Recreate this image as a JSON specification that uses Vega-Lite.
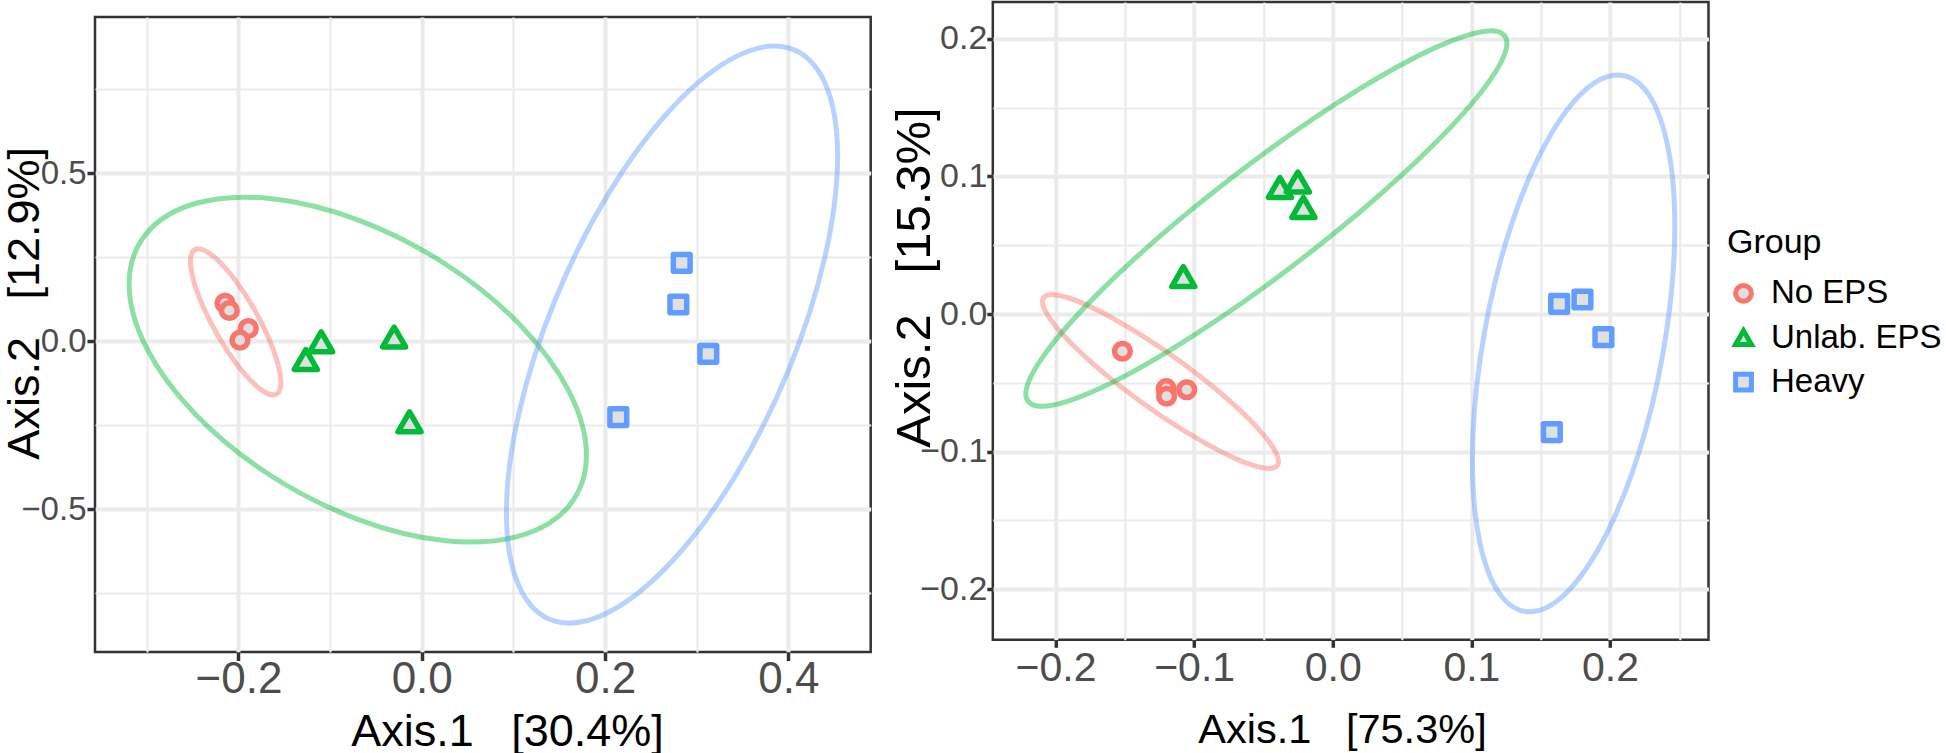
{
  "$schema": "https://vega.github.io/schema/vega-lite/v6.json",
  "background": "white",
  "padding": {"left": 0, "top": 0, "right": 0, "bottom": 0},
  "bounds": "full",
  "spacing": 16.8,
  "resolve": {"scale": {"x": "independent", "y": "independent", "stroke": "shared", "shape": "shared"}},
  "datasets": {
    "leftPoints": [
      {"Group": "No EPS", "x": -0.2146, "y": 0.113},
      {"Group": "No EPS", "x": -0.2099, "y": 0.0915},
      {"Group": "No EPS", "x": -0.1892, "y": 0.0378},
      {"Group": "No EPS", "x": -0.1983, "y": 0.003},
      {"Group": "Unlab. EPS", "x": -0.1097, "y": -0.002},
      {"Group": "Unlab. EPS", "x": -0.1265, "y": -0.0545},
      {"Group": "Unlab. EPS", "x": -0.0301, "y": 0.0125},
      {"Group": "Unlab. EPS", "x": -0.0133, "y": -0.2404},
      {"Group": "Heavy", "x": 0.2837, "y": 0.2333},
      {"Group": "Heavy", "x": 0.28, "y": 0.1094},
      {"Group": "Heavy", "x": 0.3127, "y": -0.0378},
      {"Group": "Heavy", "x": 0.2145, "y": -0.2265}
    ],
    "rightPoints": [
      {"Group": "No EPS", "x": -0.1517, "y": -0.027},
      {"Group": "No EPS", "x": -0.1201, "y": -0.0542},
      {"Group": "No EPS", "x": -0.1198, "y": -0.0597},
      {"Group": "No EPS", "x": -0.1053, "y": -0.055},
      {"Group": "Unlab. EPS", "x": -0.0381, "y": 0.092},
      {"Group": "Unlab. EPS", "x": -0.0252, "y": 0.096},
      {"Group": "Unlab. EPS", "x": -0.0212, "y": 0.0775},
      {"Group": "Unlab. EPS", "x": -0.1078, "y": 0.0272},
      {"Group": "Heavy", "x": 0.1633, "y": 0.0075},
      {"Group": "Heavy", "x": 0.1801, "y": 0.0106},
      {"Group": "Heavy", "x": 0.1952, "y": -0.0168},
      {"Group": "Heavy", "x": 0.158, "y": -0.0858}
    ],
    "leftEllipse": [
      {"Group": "No EPS", "k": 0, "x": -0.1537, "y": -0.1226},
      {"Group": "No EPS", "k": 1, "x": -0.1575, "y": -0.1557},
      {"Group": "No EPS", "k": 2, "x": -0.1681, "y": -0.1562},
      {"Group": "No EPS", "k": 3, "x": -0.1841, "y": -0.1242},
      {"Group": "No EPS", "k": 4, "x": -0.203, "y": -0.0645},
      {"Group": "No EPS", "k": 5, "x": -0.2219, "y": 0.0138},
      {"Group": "No EPS", "k": 6, "x": -0.2379, "y": 0.0988},
      {"Group": "No EPS", "k": 7, "x": -0.2486, "y": 0.1775},
      {"Group": "No EPS", "k": 8, "x": -0.2523, "y": 0.238},
      {"Group": "No EPS", "k": 9, "x": -0.2486, "y": 0.2711},
      {"Group": "No EPS", "k": 10, "x": -0.2379, "y": 0.2716},
      {"Group": "No EPS", "k": 11, "x": -0.2219, "y": 0.2396},
      {"Group": "No EPS", "k": 12, "x": -0.203, "y": 0.1799},
      {"Group": "No EPS", "k": 13, "x": -0.1841, "y": 0.1016},
      {"Group": "No EPS", "k": 14, "x": -0.1681, "y": 0.0166},
      {"Group": "No EPS", "k": 15, "x": -0.1575, "y": -0.0621},
      {"Group": "Unlab. EPS", "k": 0, "x": 0.1797, "y": -0.3394},
      {"Group": "Unlab. EPS", "k": 1, "x": 0.1607, "y": -0.4907},
      {"Group": "Unlab. EPS", "k": 2, "x": 0.1066, "y": -0.5802},
      {"Group": "Unlab. EPS", "k": 3, "x": 0.0257, "y": -0.5943},
      {"Group": "Unlab. EPS", "k": 4, "x": -0.0698, "y": -0.5307},
      {"Group": "Unlab. EPS", "k": 5, "x": -0.1653, "y": -0.3993},
      {"Group": "Unlab. EPS", "k": 6, "x": -0.2462, "y": -0.2198},
      {"Group": "Unlab. EPS", "k": 7, "x": -0.3003, "y": -0.0199},
      {"Group": "Unlab. EPS", "k": 8, "x": -0.3193, "y": 0.1702},
      {"Group": "Unlab. EPS", "k": 9, "x": -0.3003, "y": 0.3215},
      {"Group": "Unlab. EPS", "k": 10, "x": -0.2462, "y": 0.411},
      {"Group": "Unlab. EPS", "k": 11, "x": -0.1653, "y": 0.4251},
      {"Group": "Unlab. EPS", "k": 12, "x": -0.0698, "y": 0.3615},
      {"Group": "Unlab. EPS", "k": 13, "x": 0.0257, "y": 0.2301},
      {"Group": "Unlab. EPS", "k": 14, "x": 0.1066, "y": 0.0506},
      {"Group": "Unlab. EPS", "k": 15, "x": 0.1607, "y": -0.1493},
      {"Group": "Heavy", "k": 0, "x": 0.4538, "y": 0.5513},
      {"Group": "Heavy", "k": 1, "x": 0.44, "y": 0.2523},
      {"Group": "Heavy", "k": 2, "x": 0.4009, "y": -0.082},
      {"Group": "Heavy", "k": 3, "x": 0.3423, "y": -0.401},
      {"Group": "Heavy", "k": 4, "x": 0.2731, "y": -0.6558},
      {"Group": "Heavy", "k": 5, "x": 0.2039, "y": -0.8078},
      {"Group": "Heavy", "k": 6, "x": 0.1453, "y": -0.8338},
      {"Group": "Heavy", "k": 7, "x": 0.1062, "y": -0.7299},
      {"Group": "Heavy", "k": 8, "x": 0.0924, "y": -0.5119},
      {"Group": "Heavy", "k": 9, "x": 0.1062, "y": -0.2129},
      {"Group": "Heavy", "k": 10, "x": 0.1453, "y": 0.1214},
      {"Group": "Heavy", "k": 11, "x": 0.2039, "y": 0.4404},
      {"Group": "Heavy", "k": 12, "x": 0.2731, "y": 0.6952},
      {"Group": "Heavy", "k": 13, "x": 0.3423, "y": 0.8472},
      {"Group": "Heavy", "k": 14, "x": 0.4009, "y": 0.8732},
      {"Group": "Heavy", "k": 15, "x": 0.44, "y": 0.7693}
    ],
    "rightEllipse": [
      {"Group": "No EPS", "k": 0, "x": -0.0392, "y": -0.1071},
      {"Group": "No EPS", "k": 1, "x": -0.0457, "y": -0.1122},
      {"Group": "No EPS", "k": 2, "x": -0.0641, "y": -0.1076},
      {"Group": "No EPS", "k": 3, "x": -0.0917, "y": -0.094},
      {"Group": "No EPS", "k": 4, "x": -0.1243, "y": -0.0737},
      {"Group": "No EPS", "k": 5, "x": -0.1569, "y": -0.0496},
      {"Group": "No EPS", "k": 6, "x": -0.1845, "y": -0.0254},
      {"Group": "No EPS", "k": 7, "x": -0.2029, "y": -0.0048},
      {"Group": "No EPS", "k": 8, "x": -0.2094, "y": 0.0091},
      {"Group": "No EPS", "k": 9, "x": -0.2029, "y": 0.0142},
      {"Group": "No EPS", "k": 10, "x": -0.1845, "y": 0.0096},
      {"Group": "No EPS", "k": 11, "x": -0.1569, "y": -0.004},
      {"Group": "No EPS", "k": 12, "x": -0.1243, "y": -0.0243},
      {"Group": "No EPS", "k": 13, "x": -0.0917, "y": -0.0484},
      {"Group": "No EPS", "k": 14, "x": -0.0641, "y": -0.0726},
      {"Group": "No EPS", "k": 15, "x": -0.0457, "y": -0.0932},
      {"Group": "Unlab. EPS", "k": 0, "x": 0.1256, "y": 0.1969},
      {"Group": "Unlab. EPS", "k": 1, "x": 0.1124, "y": 0.1686},
      {"Group": "Unlab. EPS", "k": 2, "x": 0.0748, "y": 0.1252},
      {"Group": "Unlab. EPS", "k": 3, "x": 0.0185, "y": 0.0733},
      {"Group": "Unlab. EPS", "k": 4, "x": -0.0479, "y": 0.0208},
      {"Group": "Unlab. EPS", "k": 5, "x": -0.1143, "y": -0.0243},
      {"Group": "Unlab. EPS", "k": 6, "x": -0.1706, "y": -0.0552},
      {"Group": "Unlab. EPS", "k": 7, "x": -0.2082, "y": -0.067},
      {"Group": "Unlab. EPS", "k": 8, "x": -0.2214, "y": -0.0581},
      {"Group": "Unlab. EPS", "k": 9, "x": -0.2082, "y": -0.0298},
      {"Group": "Unlab. EPS", "k": 10, "x": -0.1706, "y": 0.0136},
      {"Group": "Unlab. EPS", "k": 11, "x": -0.1143, "y": 0.0655},
      {"Group": "Unlab. EPS", "k": 12, "x": -0.0479, "y": 0.118},
      {"Group": "Unlab. EPS", "k": 13, "x": 0.0185, "y": 0.1631},
      {"Group": "Unlab. EPS", "k": 14, "x": 0.0748, "y": 0.194},
      {"Group": "Unlab. EPS", "k": 15, "x": 0.1124, "y": 0.2058},
      {"Group": "Heavy", "k": 0, "x": 0.2467, "y": 0.0637},
      {"Group": "Heavy", "k": 1, "x": 0.2411, "y": -0.01},
      {"Group": "Heavy", "k": 2, "x": 0.2253, "y": -0.0854},
      {"Group": "Heavy", "k": 3, "x": 0.2016, "y": -0.151},
      {"Group": "Heavy", "k": 4, "x": 0.1737, "y": -0.1969},
      {"Group": "Heavy", "k": 5, "x": 0.1458, "y": -0.216},
      {"Group": "Heavy", "k": 6, "x": 0.1221, "y": -0.2056},
      {"Group": "Heavy", "k": 7, "x": 0.1063, "y": -0.167},
      {"Group": "Heavy", "k": 8, "x": 0.1007, "y": -0.1063},
      {"Group": "Heavy", "k": 9, "x": 0.1063, "y": -0.0326},
      {"Group": "Heavy", "k": 10, "x": 0.1221, "y": 0.0428},
      {"Group": "Heavy", "k": 11, "x": 0.1458, "y": 0.1084},
      {"Group": "Heavy", "k": 12, "x": 0.1737, "y": 0.1543},
      {"Group": "Heavy", "k": 13, "x": 0.2016, "y": 0.1734},
      {"Group": "Heavy", "k": 14, "x": 0.2253, "y": 0.163},
      {"Group": "Heavy", "k": 15, "x": 0.2411, "y": 0.1244}
    ]
  },
  "config": {
    "font": "Liberation Sans",
    "view": {"stroke": "#333333", "strokeWidth": 2.5},
    "axis": {
      "domain": false,
      "gridColor": "#EBEBEB",
      "tickColor": "#333333",
      "tickWidth": 3.5,
      "labelColor": "#4D4D4D",
      "titleColor": "#000000",
      "titleFontWeight": "normal",
      "labelFont": "Liberation Sans",
      "titleFont": "Liberation Sans",
      "labelFlush": false,
      "labelOverlap": false
    },
    "legend": {
      "orient": "none",
      "legendX": 1632,
      "legendY": 224.3,
      "padding": 0,
      "titleFont": "Liberation Sans",
      "titleFontSize": 34,
      "titleFontWeight": "normal",
      "titleColor": "#000000",
      "titlePadding": 16.5,
      "labelFont": "Liberation Sans",
      "labelFontSize": 33,
      "labelColor": "#000000",
      "labelOffset": 11,
      "labelLimit": 400,
      "rowPadding": 8.4,
      "symbolSize": 250,
      "symbolStrokeWidth": 5,
      "symbolOpacity": 1,
      "symbolFillColor": "#e0e0e0"
    }
  },
  "hconcat": [
    {
      "bounds": "flush",
      "spacing": 0,
      "vconcat": [
        {
          "width": 775.7,
          "height": 14.2,
          "view": {"stroke": null},
          "data": {"values": [{"s": 0}]},
          "mark": {"type": "point", "opacity": 0},
          "encoding": {}
        },
        {
          "width": 775.7,
          "height": 635,
          "resolve": {"axis": {"x": "independent", "y": "independent"}},
          "layer": [
            {
              "data": {"name": "leftEllipse"},
              "transform": [{"filter": {"field": "Group", "equal": "No EPS"}}],
              "mark": {"type": "line", "interpolate": "cardinal-closed", "strokeWidth": 5, "opacity": 0.45, "stroke": "#F8766D"},
              "encoding": {
                "x": {"field": "x", "type": "quantitative", "scale": {"domain": [-0.3565, 0.4899], "nice": false, "zero": false},
                      "axis": {"orient": "bottom", "values": [-0.3, -0.1, 0.1, 0.3], "grid": true, "gridWidth": 2.2, "ticks": false, "labels": false, "domain": false, "title": null}},
                "y": {"field": "y", "type": "quantitative", "scale": {"domain": [-0.926, 0.966], "nice": false, "zero": false},
                      "axis": {"orient": "left", "values": [-0.75, -0.25, 0.25, 0.75], "grid": true, "gridWidth": 2.2, "ticks": false, "labels": false, "domain": false, "title": null}},
                "order": {"field": "k", "type": "quantitative"}
              }
            },
            {
              "data": {"name": "leftEllipse"},
              "transform": [{"filter": {"field": "Group", "equal": "Unlab. EPS"}}],
              "mark": {"type": "line", "interpolate": "cardinal-closed", "strokeWidth": 5, "opacity": 0.45, "stroke": "#00BA38"},
              "encoding": {
                "x": {"field": "x", "type": "quantitative", "axis": null},
                "y": {"field": "y", "type": "quantitative", "axis": null},
                "order": {"field": "k", "type": "quantitative"}
              }
            },
            {
              "data": {"name": "leftEllipse"},
              "transform": [{"filter": {"field": "Group", "equal": "Heavy"}}],
              "mark": {"type": "line", "interpolate": "cardinal-closed", "strokeWidth": 5, "opacity": 0.45, "stroke": "#619CFF"},
              "encoding": {
                "x": {"field": "x", "type": "quantitative", "axis": null},
                "y": {"field": "y", "type": "quantitative", "axis": null},
                "order": {"field": "k", "type": "quantitative"}
              }
            },
            {
              "data": {"name": "leftPoints"},
              "transform": [{"filter": {"field": "Group", "equal": "No EPS"}}],
              "mark": {"type": "point", "filled": true, "fill": "#e0e0e0", "strokeWidth": 5.5, "opacity": 1, "strokeJoin": "round", "size": 246},
              "encoding": {
                "x": {"field": "x", "type": "quantitative",
                      "axis": {"orient": "bottom", "values": [-0.2, 0, 0.2, 0.4], "format": ".1f", "grid": true, "gridWidth": 4, "tickSize": 8.5,
                               "labelFontSize": 44, "labelPadding": 31.5, "labelBaseline": "alphabetic",
                               "title": "Axis.1\u00a0\u00a0\u00a0[30.4%]", "titleFontSize": 45, "titleX": 412, "titleY": 93.3, "titleBaseline": "alphabetic", "titleAlign": "center"}},
                "y": {"field": "y", "type": "quantitative",
                      "axis": {"orient": "left", "values": [-0.5, 0, 0.5], "format": ".1f", "grid": true, "gridWidth": 4, "tickSize": 8,
                               "labelFontSize": 33, "labelPadding": 1, "labelBaseline": "middle",
                               "title": "Axis.2\u00a0\u00a0\u00a0[12.9%]", "titleFontSize": 45, "titleAngle": 270, "titleX": -57, "titleY": 285.8, "titleBaseline": "alphabetic", "titleAlign": "center"}},
                "stroke": {"field": "Group", "type": "nominal", "title": "Group", "scale": {"domain": ["No EPS", "Unlab. EPS", "Heavy"], "range": ["#F8766D", "#00BA38", "#619CFF"]}},
                "shape": {"field": "Group", "type": "nominal", "title": "Group", "scale": {"domain": ["No EPS", "Unlab. EPS", "Heavy"], "range": ["circle", "triangle-up", "square"]}}
              }
            },
            {
              "data": {"name": "leftPoints"},
              "transform": [{"filter": {"field": "Group", "equal": "Unlab. EPS"}}],
              "mark": {"type": "point", "filled": true, "fill": "#e0e0e0", "strokeWidth": 5.5, "opacity": 1, "strokeJoin": "round", "size": 529},
              "encoding": {
                "x": {"field": "x", "type": "quantitative", "axis": null},
                "y": {"field": "y", "type": "quantitative", "axis": null},
                "stroke": {"field": "Group", "type": "nominal", "title": "Group", "scale": {"domain": ["No EPS", "Unlab. EPS", "Heavy"], "range": ["#F8766D", "#00BA38", "#619CFF"]}},
                "shape": {"field": "Group", "type": "nominal", "title": "Group", "scale": {"domain": ["No EPS", "Unlab. EPS", "Heavy"], "range": ["circle", "triangle-up", "square"]}}
              }
            },
            {
              "data": {"name": "leftPoints"},
              "transform": [{"filter": {"field": "Group", "equal": "Heavy"}}],
              "mark": {"type": "point", "filled": true, "fill": "#e0e0e0", "strokeWidth": 5.5, "opacity": 1, "strokeJoin": "round", "size": 280},
              "encoding": {
                "x": {"field": "x", "type": "quantitative", "axis": null},
                "y": {"field": "y", "type": "quantitative", "axis": null},
                "stroke": {"field": "Group", "type": "nominal", "title": "Group", "scale": {"domain": ["No EPS", "Unlab. EPS", "Heavy"], "range": ["#F8766D", "#00BA38", "#619CFF"]}},
                "shape": {"field": "Group", "type": "nominal", "title": "Group", "scale": {"domain": ["No EPS", "Unlab. EPS", "Heavy"], "range": ["circle", "triangle-up", "square"]}}
              }
            }
          ]
        }
      ]
    },
    {
      "width": 715.7,
      "height": 637.8,
      "resolve": {"axis": {"x": "independent", "y": "independent"}},
      "layer": [
        {
          "data": {"name": "rightEllipse"},
          "transform": [{"filter": {"field": "Group", "equal": "No EPS"}}],
          "mark": {"type": "line", "interpolate": "cardinal-closed", "strokeWidth": 5, "opacity": 0.45, "stroke": "#F8766D"},
          "encoding": {
            "x": {"field": "x", "type": "quantitative", "scale": {"domain": [-0.2452, 0.271], "nice": false, "zero": false},
                  "axis": {"orient": "bottom", "values": [-0.15, -0.05, 0.05, 0.15, 0.25], "grid": true, "gridWidth": 2.2, "ticks": false, "labels": false, "domain": false, "title": null}},
            "y": {"field": "y", "type": "quantitative", "scale": {"domain": [-0.2367, 0.2268], "nice": false, "zero": false},
                  "axis": {"orient": "left", "values": [-0.15, -0.05, 0.05, 0.15], "grid": true, "gridWidth": 2.2, "ticks": false, "labels": false, "domain": false, "title": null}},
            "order": {"field": "k", "type": "quantitative"}
          }
        },
        {
          "data": {"name": "rightEllipse"},
          "transform": [{"filter": {"field": "Group", "equal": "Unlab. EPS"}}],
          "mark": {"type": "line", "interpolate": "cardinal-closed", "strokeWidth": 5, "opacity": 0.45, "stroke": "#00BA38"},
          "encoding": {
            "x": {"field": "x", "type": "quantitative", "axis": null},
            "y": {"field": "y", "type": "quantitative", "axis": null},
            "order": {"field": "k", "type": "quantitative"}
          }
        },
        {
          "data": {"name": "rightEllipse"},
          "transform": [{"filter": {"field": "Group", "equal": "Heavy"}}],
          "mark": {"type": "line", "interpolate": "cardinal-closed", "strokeWidth": 5, "opacity": 0.45, "stroke": "#619CFF"},
          "encoding": {
            "x": {"field": "x", "type": "quantitative", "axis": null},
            "y": {"field": "y", "type": "quantitative", "axis": null},
            "order": {"field": "k", "type": "quantitative"}
          }
        },
        {
          "data": {"name": "rightPoints"},
          "transform": [{"filter": {"field": "Group", "equal": "No EPS"}}],
          "mark": {"type": "point", "filled": true, "fill": "#e0e0e0", "strokeWidth": 5.5, "opacity": 1, "strokeJoin": "round", "size": 246},
          "encoding": {
            "x": {"field": "x", "type": "quantitative",
                  "axis": {"orient": "bottom", "values": [-0.2, -0.1, 0, 0.1, 0.2], "format": ".1f", "grid": true, "gridWidth": 4, "tickSize": 7.5,
                           "labelFontSize": 41, "labelPadding": 33.2, "labelBaseline": "alphabetic",
                           "title": "Axis.1\u00a0\u00a0\u00a0[75.3%]", "titleFontSize": 41.5, "titleX": 349.2, "titleY": 102.4, "titleBaseline": "alphabetic", "titleAlign": "center"}},
            "y": {"field": "y", "type": "quantitative",
                  "axis": {"orient": "left", "values": [-0.2, -0.1, 0, 0.1, 0.2], "format": ".1f", "grid": true, "gridWidth": 4, "tickSize": 6,
                           "labelFontSize": 34, "labelPadding": 0, "labelBaseline": "middle",
                           "title": "Axis.2\u00a0\u00a0\u00a0[15.3%]", "titleFontSize": 49, "titleAngle": 270, "titleX": -63.3, "titleY": 275, "titleBaseline": "alphabetic", "titleAlign": "center"}},
            "stroke": {"field": "Group", "type": "nominal", "title": "Group", "scale": {"domain": ["No EPS", "Unlab. EPS", "Heavy"], "range": ["#F8766D", "#00BA38", "#619CFF"]}},
            "shape": {"field": "Group", "type": "nominal", "title": "Group", "scale": {"domain": ["No EPS", "Unlab. EPS", "Heavy"], "range": ["circle", "triangle-up", "square"]}}
          }
        },
        {
          "data": {"name": "rightPoints"},
          "transform": [{"filter": {"field": "Group", "equal": "Unlab. EPS"}}],
          "mark": {"type": "point", "filled": true, "fill": "#e0e0e0", "strokeWidth": 5.5, "opacity": 1, "strokeJoin": "round", "size": 529},
          "encoding": {
            "x": {"field": "x", "type": "quantitative", "axis": null},
            "y": {"field": "y", "type": "quantitative", "axis": null},
            "stroke": {"field": "Group", "type": "nominal", "title": "Group", "scale": {"domain": ["No EPS", "Unlab. EPS", "Heavy"], "range": ["#F8766D", "#00BA38", "#619CFF"]}},
            "shape": {"field": "Group", "type": "nominal", "title": "Group", "scale": {"domain": ["No EPS", "Unlab. EPS", "Heavy"], "range": ["circle", "triangle-up", "square"]}}
          }
        },
        {
          "data": {"name": "rightPoints"},
          "transform": [{"filter": {"field": "Group", "equal": "Heavy"}}],
          "mark": {"type": "point", "filled": true, "fill": "#e0e0e0", "strokeWidth": 5.5, "opacity": 1, "strokeJoin": "round", "size": 280},
          "encoding": {
            "x": {"field": "x", "type": "quantitative", "axis": null},
            "y": {"field": "y", "type": "quantitative", "axis": null},
            "stroke": {"field": "Group", "type": "nominal", "title": "Group", "scale": {"domain": ["No EPS", "Unlab. EPS", "Heavy"], "range": ["#F8766D", "#00BA38", "#619CFF"]}},
            "shape": {"field": "Group", "type": "nominal", "title": "Group", "scale": {"domain": ["No EPS", "Unlab. EPS", "Heavy"], "range": ["circle", "triangle-up", "square"]}}
          }
        }
      ]
    }
  ]
}
